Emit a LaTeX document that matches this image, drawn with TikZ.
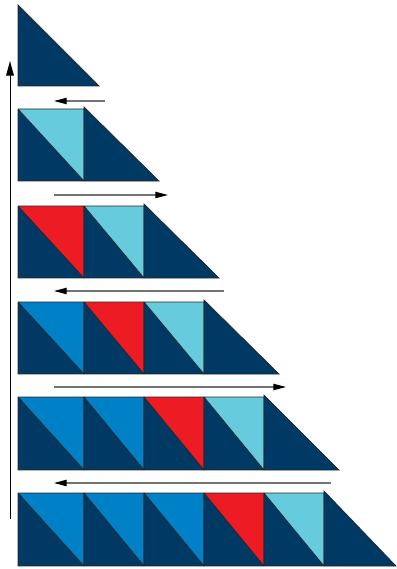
\documentclass[tikz,border=0pt]{standalone}
\usepackage{xcolor}
\usepackage{tikz}
\usetikzlibrary{arrows.meta}

\definecolor{navy}{RGB}{0,58,100}
\definecolor{midblue}{RGB}{0,128,199}
\definecolor{hotred}{RGB}{237,28,36}
\definecolor{paleblue}{RGB}{102,204,221}

\begin{document}
\begin{tikzpicture}[
    x=0.03cm, y=-0.03cm,
    edge/.style={draw=black!85, line width=0.6pt},
    flow/.style={draw=black!55, line width=0.9pt, -{Triangle[length=3.8mm, width=1.9mm, color=black]}},
    climb/.style={draw=black, line width=0.8pt, -{Triangle[length=4.4mm, width=2.3mm]}}
]
\useasboundingbox (0,0) rectangle (396,569);

% Row 1: single triangle
\fill[navy] (18,5) -- (18,86) -- (99,86) -- cycle;
\draw[edge] (18,5) -- (18,86) -- (99,86) -- cycle;

% Row 2
\foreach \xa/\xb/\c in {18/84/paleblue} {
  \fill[navy] (\xa,109) rectangle (\xb,181);
  \fill[\c] (\xa,109) -- (\xb,109) -- (\xb,181) -- cycle;
  \draw[edge] (\xa,109) rectangle (\xb,181) (\xa,109) -- (\xb,181);
}
\fill[navy] (84,107) -- (84,181) -- (159,181) -- cycle;
\draw[edge] (84,107) -- (84,181) -- (159,181) -- cycle;

% Row 3
\foreach \xa/\xb/\c in {18/84/hotred, 84/144/paleblue} {
  \fill[navy] (\xa,206) rectangle (\xb,278);
  \fill[\c] (\xa,206) -- (\xb,206) -- (\xb,278) -- cycle;
  \draw[edge] (\xa,206) rectangle (\xb,278) (\xa,206) -- (\xb,278);
}
\fill[navy] (144,204) -- (144,278) -- (219,278) -- cycle;
\draw[edge] (144,204) -- (144,278) -- (219,278) -- cycle;

% Row 4
\foreach \xa/\xb/\c in {18/84/midblue, 84/144/hotred, 144/204/paleblue} {
  \fill[navy] (\xa,302) rectangle (\xb,374);
  \fill[\c] (\xa,302) -- (\xb,302) -- (\xb,374) -- cycle;
  \draw[edge] (\xa,302) rectangle (\xb,374) (\xa,302) -- (\xb,374);
}
\fill[navy] (204,300) -- (204,374) -- (279,374) -- cycle;
\draw[edge] (204,300) -- (204,374) -- (279,374) -- cycle;

% Row 5
\foreach \xa/\xb/\c in {18/84/midblue, 84/144/midblue, 144/204/hotred, 204/264/paleblue} {
  \fill[navy] (\xa,397) rectangle (\xb,470);
  \fill[\c] (\xa,397) -- (\xb,397) -- (\xb,470) -- cycle;
  \draw[edge] (\xa,397) rectangle (\xb,470) (\xa,397) -- (\xb,470);
}
\fill[navy] (264,395) -- (264,470) -- (339,470) -- cycle;
\draw[edge] (264,395) -- (264,470) -- (339,470) -- cycle;

% Row 6
\foreach \xa/\xb/\c in {18/84/midblue, 84/144/midblue, 144/204/midblue, 204/264/hotred, 264/324/paleblue} {
  \fill[navy] (\xa,493) rectangle (\xb,566);
  \fill[\c] (\xa,493) -- (\xb,493) -- (\xb,566) -- cycle;
  \draw[edge] (\xa,493) rectangle (\xb,566) (\xa,493) -- (\xb,566);
}
\fill[navy] (324,491) -- (324,566) -- (396,566) -- cycle;
\draw[edge] (324,491) -- (324,566) -- (396,566) -- cycle;

% Arrow ends
\coordinate (r1a) at (105,101);  \coordinate (r1b) at (54,101);
\coordinate (r2a) at (54,195);   \coordinate (r2b) at (168,195);
\coordinate (r3a) at (224,291);  \coordinate (r3b) at (54,291);
\coordinate (r4a) at (54,387);   \coordinate (r4b) at (286,387);
\coordinate (r5a) at (331,483);  \coordinate (r5b) at (54,483);
\coordinate (upa) at (10,519);   \coordinate (upb) at (10,61);

% Direction arrows
\draw[flow] (r1a) -- (r1b);
\draw[flow] (r2a) -- (r2b);
\draw[flow] (r3a) -- (r3b);
\draw[flow] (r4a) -- (r4b);
\draw[flow] (r5a) -- (r5b);
\draw[climb] (upa) -- (upb);
\end{tikzpicture}
\end{document}
